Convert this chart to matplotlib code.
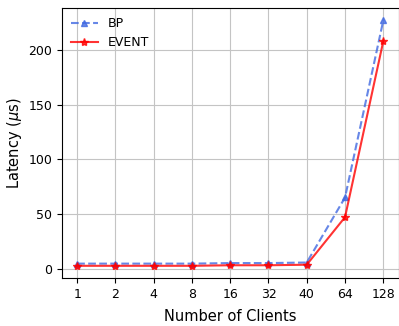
import matplotlib
matplotlib.use("Agg")
import matplotlib.pyplot as plt

clients = ["1", "2", "4", "8", "16", "32", "40", "64", "128"]
bp = [4.5, 4.5, 4.5, 4.5, 5, 5, 5.5, 65, 227]
event = [2.5, 2.5, 2.5, 2.5, 3, 3, 3.5, 47, 208]

fig, ax = plt.subplots(figsize=(3.99, 3.26), dpi=100)
x = list(range(len(clients)))
ax.plot(x, bp, linestyle="--", marker="^", color="royalblue", alpha=0.8, label="BP", markersize=5)
ax.plot(x, event, linestyle="-", marker="*", color="red", alpha=0.8, label="EVENT", markersize=6)
ax.set_xticks(x)
ax.set_xticklabels(clients)
ax.grid(True, color="#c4c4c4", linewidth=0.8)
ax.set_axisbelow(True)
ax.set_xlabel("Number of Clients", fontsize=10.5, labelpad=6)
ax.set_ylabel(r"Latency ($\mu$s)", fontsize=10.5, labelpad=3)
ax.tick_params(labelsize=9)
ax.legend(loc="upper left", frameon=False, fontsize=9, handlelength=2.2, borderaxespad=0.3)
fig.subplots_adjust(left=0.155, right=0.999, top=0.975, bottom=0.147)
fig.savefig("out.png", dpi=100)
